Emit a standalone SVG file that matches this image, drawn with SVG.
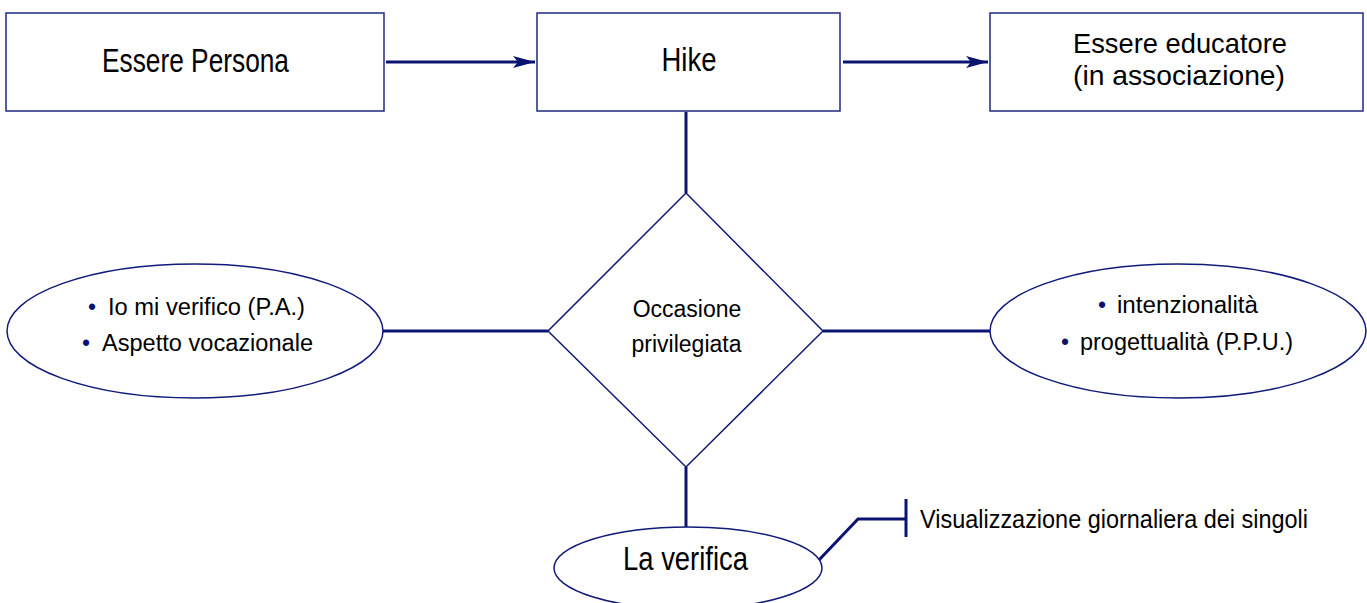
<svg xmlns="http://www.w3.org/2000/svg" width="1367" height="603" viewBox="0 0 1367 603">
<style>
.box{fill:#ffffff;stroke:#1f2a80;stroke-width:1.5}
.shape{fill:#ffffff;stroke:#101a78;stroke-width:1.5}
.conn{fill:none;stroke:#0a1470;stroke-width:3}
.big{font-family:"Liberation Sans",Arial,sans-serif;font-size:33px;fill:#000000;text-anchor:middle}
.two{font-family:"Liberation Sans",Arial,sans-serif;font-size:28px;fill:#000000;text-anchor:middle}
.mid{font-family:"Liberation Sans",Arial,sans-serif;font-size:23px;fill:#000000}
.bul{font-family:"Liberation Sans",Arial,sans-serif;font-size:23px;fill:#0a1470;text-anchor:middle}
.lbl{font-family:"Liberation Sans",Arial,sans-serif;font-size:25px;fill:#000000}
</style>
<defs>
<marker id="arr" markerUnits="userSpaceOnUse" markerWidth="24" markerHeight="16" refX="22" refY="8" orient="auto">
<path d="M0,2 L22,8 L0,14 L5,8 z" fill="#0a1470"/>
</marker>
</defs>
<rect width="1367" height="603" fill="#ffffff"/>
<g id="connectors">
<line class="conn" x1="386" y1="62" x2="535" y2="62" marker-end="url(#arr)"/>
<line class="conn" x1="843" y1="62" x2="988" y2="62" marker-end="url(#arr)"/>
<line class="conn" x1="686" y1="112" x2="686" y2="193"/>
<line class="conn" x1="383" y1="331" x2="548" y2="331"/>
<line class="conn" x1="823" y1="331" x2="990" y2="331"/>
<line class="conn" x1="686" y1="467" x2="686" y2="527"/>
<polyline class="conn" points="819,560 858,519 906,519"/>
<line class="conn" x1="906" y1="499" x2="906" y2="537"/>
</g>
<g id="node-essere-persona">
<rect class="box" x="6" y="13" width="378" height="98"/>
<text class="big" x="195.5" y="72" textLength="187" lengthAdjust="spacingAndGlyphs">Essere Persona</text>
</g>
<g id="node-hike">
<rect class="box" x="537" y="13" width="303" height="98"/>
<text class="big" x="689" y="71" textLength="55" lengthAdjust="spacingAndGlyphs">Hike</text>
</g>
<g id="node-essere-educatore">
<rect class="box" x="990" y="13" width="373" height="98"/>
<text class="two" x="1180" y="53" textLength="214" lengthAdjust="spacingAndGlyphs">Essere educatore</text>
<text class="two" x="1179" y="85" textLength="212" lengthAdjust="spacingAndGlyphs">(in associazione)</text>
</g>
<g id="node-occasione">
<polygon class="shape" points="686,193 823,331 686,467 548,331"/>
<text class="mid" x="687" y="317" text-anchor="middle">Occasione</text>
<text class="mid" x="686.5" y="352" text-anchor="middle">privilegiata</text>
</g>
<g id="node-io-mi-verifico">
<ellipse class="shape" cx="195" cy="331" rx="188" ry="67"/>
<text class="bul" x="92" y="315">•</text>
<text class="mid" x="108" y="315" textLength="197" lengthAdjust="spacingAndGlyphs">Io mi verifico (P.A.)</text>
<text class="bul" x="86" y="351">•</text>
<text class="mid" x="102" y="351" textLength="211" lengthAdjust="spacingAndGlyphs">Aspetto vocazionale</text>
</g>
<g id="node-intenzionalita">
<ellipse class="shape" cx="1178" cy="331" rx="188" ry="67"/>
<text class="bul" x="1102" y="313">•</text>
<text class="mid" x="1117" y="313" textLength="141" lengthAdjust="spacingAndGlyphs">intenzionalità</text>
<text class="bul" x="1065" y="350">•</text>
<text class="mid" x="1080" y="350" textLength="213" lengthAdjust="spacingAndGlyphs">progettualità (P.P.U.)</text>
</g>
<g id="node-la-verifica">
<ellipse class="shape" cx="688" cy="568" rx="134" ry="41"/>
<text class="big" x="685.5" y="570" font-size="30" textLength="125" lengthAdjust="spacingAndGlyphs">La verifica</text>
</g>
<g id="node-visualizzazione">
<text class="lbl" x="920" y="528" textLength="388" lengthAdjust="spacingAndGlyphs">Visualizzazione giornaliera dei singoli</text>
</g>
</svg>
